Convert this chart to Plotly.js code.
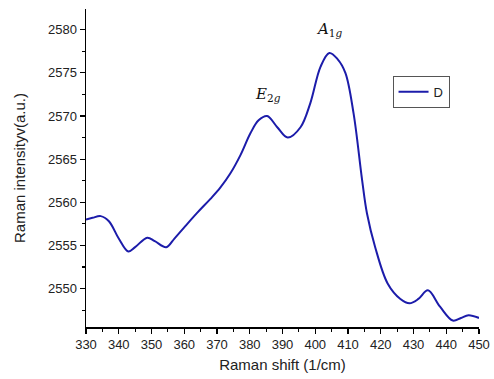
<!DOCTYPE html>
<html><head><meta charset="utf-8">
<script src="https://cdn.plot.ly/plotly-3.0.1.min.js"></script>
<style>body{margin:0;background:#fff}#c{width:494px;height:379px}</style>
</head><body><div id="c"></div>
<script>
const ramanShift = [330,332,334.5,337,340,342.9,345,348.7,351,354.5,357,360,364,368,371,374,377.2,380.2,382.7,385.3,388.4,391.6,395.5,398.5,401.6,404.3,406.8,409.2,411.7,414.3,415.8,418.3,422.1,426,428.8,431.5,434.4,438.1,442,444.5,446.8,450];
const intensityD = [2558.0,2558.2,2558.4,2557.8,2555.8,2554.3,2554.8,2555.9,2555.5,2554.8,2555.8,2557.1,2558.8,2560.4,2561.7,2563.3,2565.5,2568.0,2569.5,2570.0,2568.7,2567.5,2568.7,2571.5,2575.7,2577.3,2576.6,2575.0,2570.3,2562.6,2558.7,2554.8,2550.6,2548.8,2548.3,2548.8,2549.8,2547.9,2546.3,2546.6,2546.9,2546.6];
const xTicks = [330,340,350,360,370,380,390,400,410,420,430,440,450];
const yTicks = [2550,2555,2560,2565,2570,2575,2580];
const peakLabels = [{x:385.5, y:2570, text:'<i>E</i><sub>2<i>g</i></sub>'},{x:404.2, y:2577.3, text:'<i>A</i><sub>1<i>g</i></sub>'}];

const trace = {x: ramanShift, y: intensityD, mode:'lines', name:'D',
  line:{color:'rgb(28,28,170)', width:2, shape:'spline', smoothing:1}};

const tf = {family:'Liberation Sans, Arial, sans-serif', size:13, color:'#222'};
const axisCommon = {showgrid:false, zeroline:false, showline:true, linecolor:'#000', linewidth:1.5,
  ticks:'outside', ticklen:5, tickwidth:1.2, tickcolor:'#000', tickfont:tf, mirror:false};

const layout = {
  width:494, height:379, paper_bgcolor:'#fff', plot_bgcolor:'#fff',
  margin:{l:86, r:15, t:9, b:52},
  showlegend:true,
  legend:{x:0.78, y:0.79, xanchor:'left', yanchor:'top', bordercolor:'#555', borderwidth:1,
    bgcolor:'#fff', font:tf, tracegroupgap:0, itemwidth:30},
  xaxis: Object.assign({}, axisCommon, {range:[330,450], tickvals:xTicks, ticktext:xTicks.map(String),
    minor:{dtick:5, tick0:330, ticks:'outside', ticklen:3, tickwidth:1.2, tickcolor:'#000'},
    title:{text:'Raman shift (1/cm)', font:{family:'Liberation Sans, Arial, sans-serif', size:15, color:'#222'}, standoff:8}}),
  yaxis: Object.assign({}, axisCommon, {range:[2545.55,2582.4], tickvals:yTicks, ticktext:yTicks.map(String),
    minor:{dtick:2.5, tick0:2545, ticks:'outside', ticklen:3, tickwidth:1.2, tickcolor:'#000'},
    title:{text:'Raman intensityv(a.u.)', font:{family:'Liberation Sans, Arial, sans-serif', size:15, color:'#222'}, standoff:18}}),
  annotations: peakLabels.map((p,i)=>({x:p.x, y:p.y, xref:'x', yref:'y', text:p.text, showarrow:false,
    yanchor:'bottom', yshift: i===0?10:12, font:{family:'DejaVu Serif, Liberation Serif, serif', size:15, color:'#111'}}))
};
Plotly.newPlot('c', [trace], layout, {displayModeBar:false, staticPlot:true});
</script></body></html>
